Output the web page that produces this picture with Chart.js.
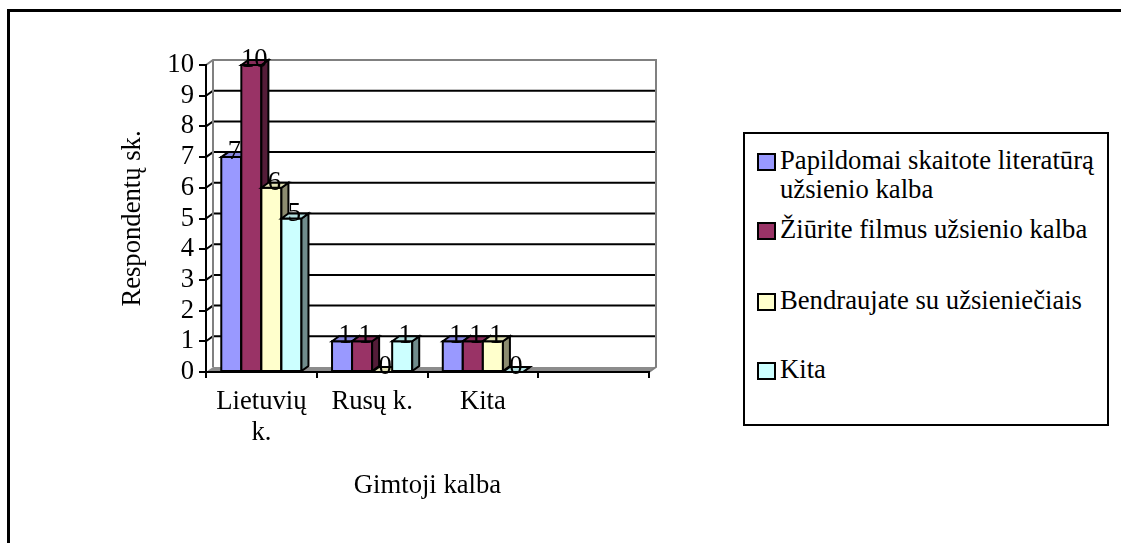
<!DOCTYPE html>
<html>
<head>
<meta charset="utf-8">
<script src="https://cdn.jsdelivr.net/npm/chart.js@4.4.1/dist/chart.umd.min.js"></script>
<style>
html,body{margin:0;padding:0;background:#fff;width:1121px;height:543px;overflow:hidden;}
#frame{position:absolute;left:7px;top:9px;width:1200px;height:600px;border:3px solid #000;}
#chart{position:absolute;left:0;top:0;}
#legend{position:absolute;left:743px;top:132px;width:362px;height:290px;border:2px solid #000;background:#fff;}
.item{position:absolute;left:12px;width:345px;}
.sw{position:absolute;left:0;width:15px;height:14px;border:2px solid #000;}
.tx{position:absolute;left:23px;width:322px;font-family:'Liberation Serif';font-size:26.67px;line-height:29px;color:#000;}
</style>
</head>
<body>
<div id="frame"></div>
<canvas id="chart" width="1121" height="543"></canvas>
<div id="legend"></div>
<script>
// ---- data ----
const categories = [["Lietuvių", "k."], "Rusų k.", "Kita", ""];
const seriesNames = [
  "Papildomai skaitote literatūrą užsienio kalba",
  "Žiūrite filmus užsienio kalba",
  "Bendraujate su užsieniečiais",
  "Kita"
];
const skaitote = [7, 1, 1, null];
const filmai = [10, 1, 1, null];
const bendraujate = [6, 0, 1, null];
const kita = [5, 1, 0, null];
const yTicks = [0, 1, 2, 3, 4, 5, 6, 7, 8, 9, 10];
const xTitle = "Gimtoji kalba";
const yTitle = "Respondentų sk.";

// ---- styles ----
const colors = ["#9999FF", "#993366", "#FFFFCC", "#CCFFFF"];
const FONT = "'Liberation Serif'";
const FS = 26.67;
const DX = 7, DY = -5;

function shade(hex, f) {
  const n = parseInt(hex.slice(1), 16);
  const r = Math.round(((n >> 16) & 255) * f), g = Math.round(((n >> 8) & 255) * f), b = Math.round((n & 255) * f);
  return `rgb(${r},${g},${b})`;
}

const seriesValues = [skaitote, filmai, bendraujate, kita];

// legend (HTML, built from the series arrays)
const legendTops = [12, 81, 152, 221];
const legend = document.getElementById('legend');
seriesNames.forEach((name, i) => {
  const it = document.createElement('div');
  it.className = 'item';
  it.style.top = legendTops[i] + 'px';
  const sw = document.createElement('div');
  sw.className = 'sw';
  sw.style.top = '7px';
  sw.style.background = colors[i];
  const tx = document.createElement('div');
  tx.className = 'tx';
  tx.style.top = '0px';
  tx.textContent = name;
  it.appendChild(sw); it.appendChild(tx);
  legend.appendChild(it);
});

const threeD = {
  id: 'threeD',
  beforeDraw(chart) {
    const { ctx, chartArea: a, scales: { y } } = chart;
    ctx.save();
    // floor
    ctx.fillStyle = '#8c8c8c';
    ctx.beginPath();
    ctx.moveTo(a.left, a.bottom);
    ctx.lineTo(a.left + DX, a.bottom + DY);
    ctx.lineTo(a.right + DX, a.bottom + DY);
    ctx.lineTo(a.right, a.bottom);
    ctx.closePath();
    ctx.fill();
    // grid lines on side and back walls
    ctx.strokeStyle = '#000';
    ctx.lineWidth = 2;
    yTicks.forEach(v => {
      if (v <= y.min || v >= y.max) return;
      const py = y.getPixelForValue(v);
      ctx.beginPath();
      ctx.moveTo(a.left, py);
      ctx.lineTo(a.left + DX, py + DY);
      ctx.lineTo(a.right + DX, py + DY);
      ctx.stroke();
    });
    // wall outlines
    ctx.strokeStyle = '#808080';
    ctx.beginPath();
    ctx.moveTo(a.left, a.top);
    ctx.lineTo(a.left + DX, a.top + DY);
    ctx.lineTo(a.right + DX, a.top + DY);
    ctx.lineTo(a.right + DX, a.bottom + DY);
    ctx.lineTo(a.right, a.bottom);
    ctx.stroke();
    ctx.beginPath();
    ctx.moveTo(a.left + DX, a.top + DY);
    ctx.lineTo(a.left + DX, a.bottom + DY);
    ctx.stroke();
    ctx.restore();
  },
  afterDatasetsDraw(chart) {
    const ctx = chart.ctx;
    ctx.save();
    ctx.lineWidth = 2;
    ctx.strokeStyle = '#000';
    ctx.lineJoin = 'miter';
    const n = chart.data.labels.length;
    const labels = [];
    for (let i = 0; i < n; i++) {
      chart.data.datasets.forEach((ds, d) => {
        const v = ds.data[i];
        if (v == null) return;
        const el = chart.getDatasetMeta(d).data[i];
        if (!el) return;
        const { x, y, base, width } = el.getProps(['x', 'y', 'base', 'width'], true);
        const l = x - width / 2, r = x + width / 2;
        const c = colors[d];
        // front face
        ctx.fillStyle = c;
        ctx.beginPath();
        ctx.rect(l, y, r - l, base - y);
        ctx.fill();
        if (base - y > 0.5) ctx.stroke();
        // side face
        ctx.fillStyle = shade(c, 0.55);
        ctx.beginPath();
        ctx.moveTo(r, y); ctx.lineTo(r + DX, y + DY); ctx.lineTo(r + DX, base + DY); ctx.lineTo(r, base);
        ctx.closePath(); ctx.fill(); ctx.stroke();
        // top face
        ctx.fillStyle = shade(c, 0.88);
        ctx.beginPath();
        ctx.moveTo(l, y); ctx.lineTo(l + DX, y + DY); ctx.lineTo(r + DX, y + DY); ctx.lineTo(r, y);
        ctx.closePath(); ctx.fill(); ctx.stroke();
        labels.push([String(v), x + 3, y + 2]);
      });
    }
    ctx.fillStyle = '#000';
    ctx.font = `${FS}px ${FONT}`;
    ctx.textAlign = 'center';
    ctx.textBaseline = 'alphabetic';
    labels.forEach(([t, lx, ly]) => ctx.fillText(t, lx, ly));
    ctx.restore();
  }
};

Chart.defaults.font.family = FONT;
Chart.defaults.font.size = FS;
Chart.defaults.color = '#000';

new Chart(document.getElementById('chart'), {
  type: 'bar',
  data: {
    labels: categories,
    datasets: seriesNames.map((name, i) => ({
      label: name,
      data: seriesValues[i],
      backgroundColor: colors[i],
      borderColor: '#000',
      borderWidth: 0,
      barPercentage: 1,
      categoryPercentage: 0.724
    }))
  },
  options: {
    responsive: false,
    animation: false,
    devicePixelRatio: 1,
    layout: { padding: { left: 100, right: 472, top: 65, bottom: 31 } },
    plugins: { legend: { display: false }, tooltip: { enabled: false } },
    scales: {
      x: {
        grid: { drawOnChartArea: false, drawTicks: true, tickLength: 6, color: '#000', lineWidth: 2, offset: true },
        border: { color: '#000', width: 2 },
        ticks: { color: '#000', font: { family: FONT, size: FS, lineHeight: 1.17 }, padding: 8, maxRotation: 0, autoSkip: false },
        title: { display: true, text: xTitle, color: '#000', font: { family: FONT, size: FS, lineHeight: 1.2 }, padding: { top: 0, bottom: 10 } },
        afterFit(s) { s.height = 140; }
      },
      y: {
        min: 0, max: 10,
        afterBuildTicks(s) { s.ticks = yTicks.map(v => ({ value: v })); },
        grid: { drawOnChartArea: false, drawTicks: true, tickLength: 7, color: '#000', lineWidth: 2 },
        border: { color: '#000', width: 2 },
        ticks: { color: '#000', font: { family: FONT, size: FS }, padding: 5, autoSkip: false },
        title: { display: true, text: yTitle, color: '#000', font: { family: FONT, size: FS, lineHeight: 1.2 }, padding: { top: 17, bottom: 0 } },
        afterFit(s) { s.width = 106; }
      }
    }
  },
  plugins: [threeD]
});
</script>
</body>
</html>
